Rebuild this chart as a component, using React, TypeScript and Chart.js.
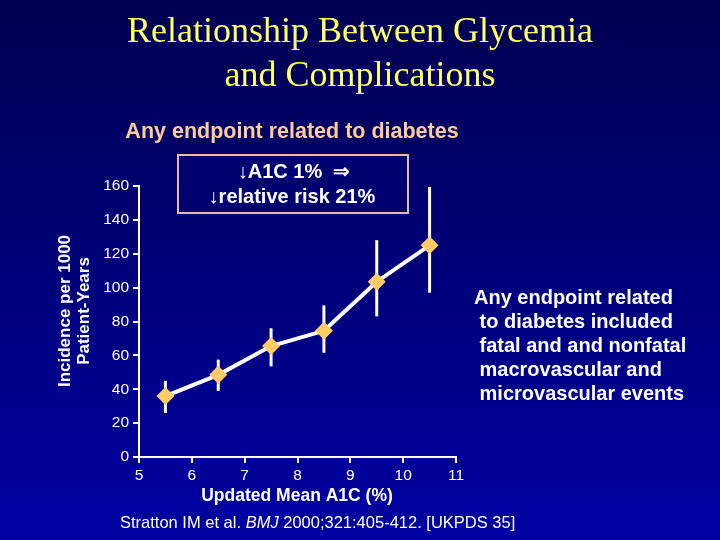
import React, { useEffect, useRef } from "react";
import { Chart, registerables } from "chart.js";

Chart.register(...registerables);

const a1cValues = [5.5, 6.5, 7.5, 8.5, 9.5, 10.5];
const incidence = [36, 48.5, 65.5, 74.5, 103.5, 125];
const ciLow = [26, 39, 53.5, 61.5, 83, 97];
const ciHigh = [45, 57.5, 76, 89.5, 128, 159.5];
const xTicks = [5, 6, 7, 8, 9, 10, 11];
const yTicks = [0, 20, 40, 60, 80, 100, 120, 140, 160];

const titleLines = ["Relationship Between Glycemia", "and Complications"];
const subtitle = "Any endpoint related to diabetes";
const boxLines = ["\u2193A1C 1%  \u21D2", "\u2193relative risk 21%"];
const noteLines = [
  "Any endpoint related",
  " to diabetes included",
  " fatal and and nonfatal",
  " macrovascular and",
  " microvascular events",
];
const yTitleLines = ["Incidence per 1000", "Patient-Years"];
const xTitle = "Updated Mean A1C (%)";

const SANS = "'Liberation Sans', Arial, sans-serif";
const SERIF = "'Liberation Serif', 'Times New Roman', serif";

const decorPlugin = {
  id: "decor",
  beforeDraw(chart: any) {
    const { ctx, width, height } = chart;
    ctx.save();
    const g = ctx.createLinearGradient(0, 0, 0, height);
    g.addColorStop(0, "#000050");
    g.addColorStop(1, "#0000a2");
    ctx.fillStyle = g;
    ctx.fillRect(0, 0, width, height);
    ctx.restore();
  },
  afterDraw(chart: any) {
    const { ctx } = chart;
    ctx.save();
    ctx.textBaseline = "middle";
    // Title
    ctx.fillStyle = "#ffff66";
    ctx.textAlign = "center";
    ctx.font = `36px ${SERIF}`;
    ctx.fillText(titleLines[0], 360, 33);
    ctx.fillText(titleLines[1], 360, 77);
    // subtitle
    ctx.fillStyle = "#ffcc99";
    ctx.font = `bold 21.5px ${SANS}`;
    ctx.fillText(subtitle, 292, 132);
    // box
    ctx.fillStyle = "#000070";
    ctx.fillRect(178, 155, 230, 58);
    ctx.strokeStyle = "#e8b8a0";
    ctx.lineWidth = 2;
    ctx.strokeRect(178, 155, 230, 58);
    ctx.fillStyle = "#ffffff";
    ctx.font = `bold 20px ${SANS}`;
    ctx.fillText(boxLines[0], 294, 172);
    ctx.fillText(boxLines[1], 292, 197);
    // note text
    ctx.textAlign = "left";
    ctx.font = `bold 20px ${SANS}`;
    noteLines.forEach((l, i) => ctx.fillText(l, 474, 298 + i * 24));
    // y title
    ctx.save();
    ctx.font = `bold 17px ${SANS}`;
    ctx.textAlign = "center";
    ctx.translate(65, 311);
    ctx.rotate(-Math.PI / 2);
    ctx.fillText(yTitleLines[0], 0, 0);
    ctx.fillText(yTitleLines[1], 0, 19);
    ctx.restore();
    // x title
    ctx.textAlign = "center";
    ctx.font = `bold 17.5px ${SANS}`;
    ctx.fillText(xTitle, 297, 496);
    // footer
    ctx.textAlign = "left";
    let x = 120;
    const y = 523;
    const parts: [string, string][] = [
      ["Stratton IM et al. ", "normal"],
      ["BMJ", "italic"],
      [" 2000;321:405-412. [UKPDS 35]", "normal"],
    ];
    parts.forEach(([t, s]) => {
      ctx.font = `${s === "italic" ? "italic " : ""}16.5px ${SANS}`;
      ctx.fillText(t, x, y);
      x += ctx.measureText(t).width;
    });
    ctx.restore();
  },
};

const errorBarPlugin = {
  id: "errorBars",
  beforeDatasetsDraw(chart: any) {
    const { ctx, scales } = chart;
    ctx.save();
    ctx.strokeStyle = "#ffffff";
    ctx.lineWidth = 3;
    a1cValues.forEach((xv, i) => {
      const px = scales.x.getPixelForValue(xv);
      ctx.beginPath();
      ctx.moveTo(px, scales.y.getPixelForValue(ciLow[i]));
      ctx.lineTo(px, scales.y.getPixelForValue(ciHigh[i]));
      ctx.stroke();
    });
    ctx.restore();
  },
};

export default function App() {
  const ref = useRef<HTMLCanvasElement>(null);
  useEffect(() => {
    document.body.style.margin = "0";
    const chart = new Chart(ref.current as HTMLCanvasElement, {
      type: "line",
      data: {
        datasets: [
          {
            data: a1cValues.map((x, i) => ({ x, y: incidence[i] })),
            borderColor: "#ffffff",
            borderWidth: 4,
            pointStyle: "rectRot",
            pointRadius: 9,
            pointBackgroundColor: "#ffcc66",
            pointBorderColor: "#ffcc66",
            pointBorderWidth: 0,
            tension: 0,
          },
        ],
      },
      options: {
        responsive: false,
        animation: false,
        events: [],
        layout: { padding: { left: 0, right: 264, top: 186, bottom: 0 } },
        plugins: { legend: { display: false }, tooltip: { enabled: false } },
        scales: {
          x: {
            type: "linear",
            min: 5,
            max: 11,
            afterFit: (s: any) => {
              s.height = 83;
            },
            afterBuildTicks: (s: any) => {
              s.ticks = xTicks.map((v) => ({ value: v }));
            },
            ticks: {
              color: "#ffffff",
              font: { family: SANS, size: 15.5 },
              padding: 3,
              maxRotation: 0,
            },
            grid: {
              display: true,
              drawOnChartArea: false,
              drawTicks: true,
              tickLength: 6,
              color: "#ffffff",
              lineWidth: 2,
            },
            border: { display: true, color: "#ffffff", width: 2 },
          },
          y: {
            type: "linear",
            min: 0,
            max: 160,
            afterFit: (s: any) => {
              s.width = 139;
            },
            afterBuildTicks: (s: any) => {
              s.ticks = yTicks.map((v) => ({ value: v }));
            },
            ticks: {
              color: "#ffffff",
              font: { family: SANS, size: 15.5 },
              padding: 4,
            },
            grid: {
              display: true,
              drawOnChartArea: false,
              drawTicks: true,
              tickLength: 6,
              color: "#ffffff",
              lineWidth: 2,
            },
            border: { display: true, color: "#ffffff", width: 2 },
          },
        },
      },
      plugins: [decorPlugin, errorBarPlugin],
    } as any);
    return () => chart.destroy();
  }, []);
  return (
    <div style={{ position: "absolute", left: 0, top: 0 }}>
      <canvas ref={ref} width={720} height={540} />
    </div>
  );
}
